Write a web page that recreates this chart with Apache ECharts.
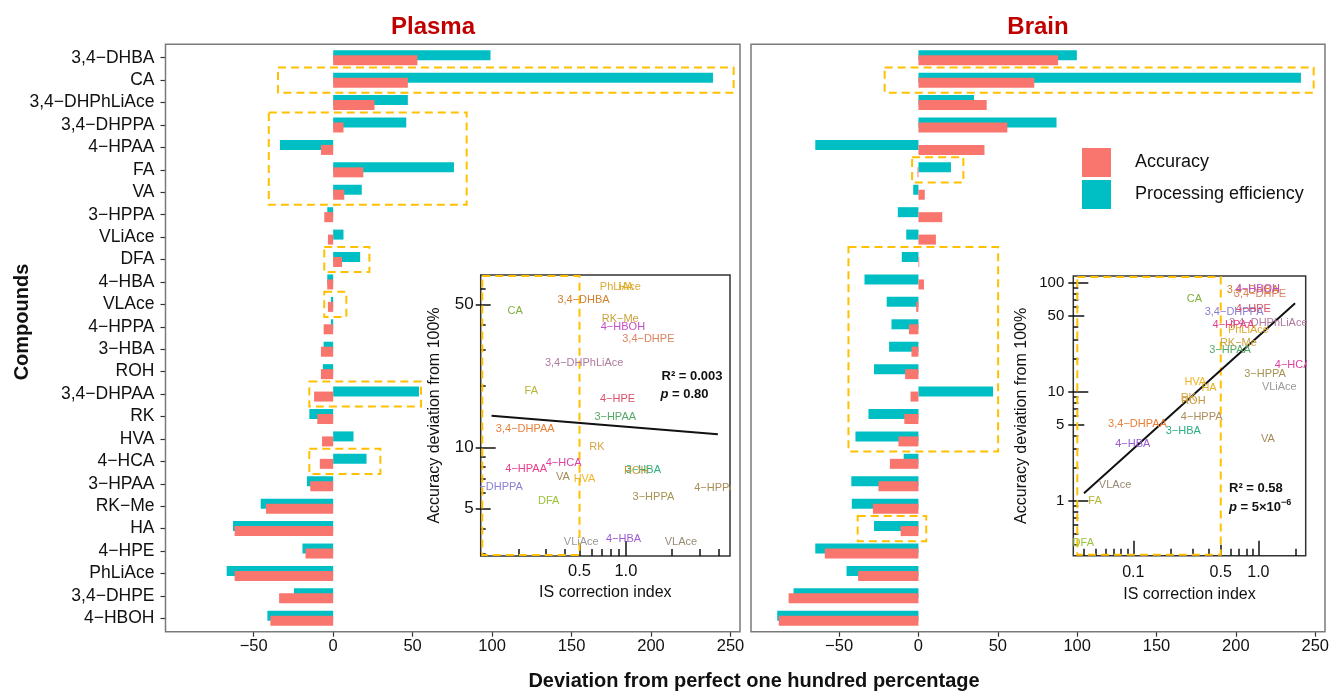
<!DOCTYPE html>
<html><head><meta charset="utf-8">
<script src="https://cdn.jsdelivr.net/npm/echarts@6/dist/echarts.min.js"></script>
<style>html,body{margin:0;padding:0;background:#fff}#c{width:1332px;height:691px}</style>
</head><body><div id="c"></div>
<script>
// ---------------- data ----------------
const categories = ['3,4-DHBA','CA','3,4-DHPhLiAce','3,4-DHPPA','4-HPAA','FA','VA','3-HPPA','VLiAce','DFA','4-HBA','VLAce','4-HPPA','3-HBA','ROH','3,4-DHPAA','RK','HVA','4-HCA','3-HPAA','RK-Me','HA','4-HPE','PhLiAce','3,4-DHPE','4-HBOH'];
const plasmaAccuracy   = [53,47,26,6.5,-7.7,19,7,-5.6,-3.3,5.6,-3.7,-3.3,-6,-7.7,-7.7,-12,-10,-7,-8.4,-14.4,-42.3,-62,-17.4,-62,-34,-39.5];
const plasmaEfficiency = [99,239,47,46,-33.5,76,18,-3.7,6.5,17,-3.7,-1.4,-1.4,-6,-6.5,54,-15,12.8,21,-16.5,-45.6,-63,-19.3,-67,-24.7,-41.4];
const brainAccuracy    = [88,73,43,56,41.6,-0.6,4,15,11,0.5,3.5,-1.4,-6,-4.4,-8.4,-5,-8.9,-12.6,-18,-25.2,-28.7,-11.2,-59,-38,-81.8,-88];
const brainEfficiency  = [99.8,241,35,87,-65,20.5,-3.3,-13,-7.7,-10.5,-34,-20,-17,-18.5,-28,47,-31.5,-39.7,-9.3,-42.3,-42,-28,-65,-45.3,-78.7,-89];
const mainTicks = [-50,0,50,100,150,200,250];

// inset scatter: IS correction index vs accuracy deviation (same category order)
const plasmaISIndex = [0.531,0.191,0.536,0.138,0.225,0.243,0.390,1.51,0.513,0.315,0.966,2.28,3.80,1.30,1.17,0.222,0.648,0.539,0.394,0.853,0.919,1.0,0.883,0.92,1.40,0.957];
const plasmaAccDev  = [52.7,46.6,25.8,6.41,7.80,18.9,7.13,5.73,3.42,5.47,3.55,3.42,6.29,7.74,7.68,12.3,10.0,6.97,8.35,14.1,42.4,60.9,17.2,60.9,33.8,39.0];
const brainISIndex  = [0.902,0.308,1.20,0.639,0.631,0.0494,1.19,1.13,1.47,0.0398,0.0989,0.0714,0.352,0.251,0.302,0.108,0.275,0.313,1.88,0.594,0.692,0.403,0.912,0.832,1.03,0.99];
const brainAccDev   = [86.3,70.8,42.7,54.5,41.2,1.0,3.71,14.6,11.2,0.409,3.33,1.40,5.93,4.42,8.27,5.08,8.87,12.3,17.7,24.3,28.3,10.9,57.4,37.1,79.3,88];
const plasmaFitX = [0.134, 3.96], plasmaFitY = [14.3, 11.6];
const brainFitX  = [0.0403, 1.966], brainFitY = [1.18, 65.1];

// tick values of inset log axes
const plasmaXLabels = [0.5, 1], plasmaXLong = [1], plasmaXMid = [0.5], plasmaXMinor = [0.2,0.3,0.4,0.6,0.7,0.8,0.9,2,3,4];
const plasmaYLabels = [5,10,50], plasmaYLong = [10], plasmaYMid = [5,50], plasmaYMinor = [3,4,6,7,8,9,20,30,40,60];
const brainXLabels = [0.1,0.5,1], brainXLong = [0.1,1], brainXMid = [0.5], brainXMinor = [0.04,0.05,0.06,0.07,0.08,0.09,0.2,0.3,0.4,0.6,0.7,0.8,0.9,2];
const brainYLabels = [1,5,10,50,100], brainYLong = [1,10,100], brainYMid = [5,50], brainYMinor = [0.4,0.5,0.6,0.7,0.8,0.9,2,3,4,6,7,8,9,20,30,40,60,70,80,90];

// highlighted (dashed) regions: [from, to, first category, last category]
const plasmaBoxes = [[-34.7,252,'CA','CA'],[-40.5,84,'3,4-DHPPA','VA'],[-5.6,22.8,'DFA','DFA'],[-5.6,8.3,'VLAce','VLAce'],[-15,55.3,'3,4-DHPAA','3,4-DHPAA'],[-15,29.7,'4-HCA','4-HCA']];
const brainBoxes  = [[-21.3,249,'CA','CA'],[-4,28.3,'FA','FA'],[-44.1,50.2,'DFA','HVA'],[-38.3,4.9,'HA','HA']];
const plasmaInsetBox = [0.115, 0.5];
const brainInsetBox  = [0.035, 0.5];

// ---------------- style ----------------
const FONT = '"Liberation Sans", Arial, Helvetica, sans-serif';
const RED = '#F8766D', TEAL = '#00BFC4', BOX = '#FFC000', TXT = '#111';
const labelColors = {
  '3,4-DHBA':'#D27F2E','CA':'#7FAF3E','3,4-DHPhLiAce':'#B07A9E','3,4-DHPPA':'#8A80D2','4-HPAA':'#EC3C8C','FA':'#B6B535',
  'VA':'#A58A55','3-HPPA':'#A59352','VLiAce':'#999999','DFA':'#98C23C','4-HBA':'#9B5BCF','VLAce':'#9A8A76',
  '4-HPPA':'#A98C58','3-HBA':'#2BAE7E','ROH':'#C4983A','3,4-DHPAA':'#E8803A','RK':'#D8A443','HVA':'#F0B429',
  '4-HCA':'#DF3FA0','3-HPAA':'#55A868','RK-Me':'#C9A23A','HA':'#E2B22A','4-HPE':'#D9506A','PhLiAce':'#DDAA33',
  '3,4-DHPE':'#D98360','4-HBOH':'#C44FC4'
};
const disp = s => String(s).replace(/-/g, '\u2212');
const idx = name => categories.indexOf(name);
const XMIN = -105.5, XMAX = 256;

const grids = [
  {left:165.5, top:46.5, width:574.5, height:583},
  {left:751,   top:46.5, width:574,   height:583},
  {left:480.7, top:275,  width:249.3, height:281, show:true, borderColor:'#333', borderWidth:1.5, backgroundColor:'#fff'},
  {left:1073.3,top:276,  width:232.4, height:279.7, show:true, borderColor:'#333', borderWidth:1.5, backgroundColor:'#fff'}
];

function mainX(grid) {
  return {type:'value', gridIndex:grid, min:XMIN, max:XMAX, position:'bottom', offset:2.2,
    axisLine:{show:false, onZero:false}, splitLine:{show:false},
    axisTick:{show:true, customValues:mainTicks, length:5, lineStyle:{color:'#333', width:1.2}},
    axisLabel:{customValues:mainTicks, fontSize:16.5, color:TXT, fontFamily:FONT, margin:6,
      formatter: v => v < 0 ? '\u2212' + Math.abs(v) : String(v)}};
}
function mainY(grid, showLabels) {
  return {type:'category', gridIndex:grid, data:categories, inverse:true, position:'left',
    axisLine:{show:false, onZero:false}, splitLine:{show:false},
    axisTick:{show:showLabels, alignWithLabel:true, interval:0, length:5, lineStyle:{color:'#333', width:1.2}},
    axisLabel:{show:showLabels, interval:0, fontSize:17.5, color:TXT, fontFamily:FONT, margin:11, formatter: v => disp(v)}};
}
function logAxes(dim, grid, min, max, s) {
  const base = {type:'log', logBase:10, gridIndex:grid, min:min, max:max, position: dim === 'x' ? 'bottom' : 'left',
    axisLine:{show:false, onZero:false}, splitLine:{show:false}, minorTick:{show:false}, minorSplitLine:{show:false}};
  const ts = {color:'#111', width:1.5};
  const out = [Object.assign({}, base, {
    name:s.name, nameLocation:'middle', nameGap:s.nameGap,
    nameTextStyle:{fontSize:16, color:TXT, fontFamily:FONT},
    axisTick: s.outLen ? {show:true, customValues:s.labels, length:s.outLen, inside:false, lineStyle:ts} : {show:false},
    axisLabel:{show:true, customValues:s.labels, formatter:s.fmt, fontSize:s.labelSize, color:TXT, fontFamily:FONT, margin:s.margin}
  })];
  [[s.long, s.longLen], [s.mid, s.midLen], [s.minor, s.minorLen]].forEach(function (p) {
    out.push(Object.assign({}, base, {axisTick:{show:true, customValues:p[0], length:p[1], inside:true, lineStyle:ts}, axisLabel:{show:false}}));
  });
  return out;
}
const fmt1 = v => Number(v).toFixed(1);
const fmt0 = v => String(Math.round(v));

const xAxes = [mainX(0), mainX(1)]
  .concat(logAxes('x', 2, 0.114, 4.75, {labels:plasmaXLabels, outLen:0, long:plasmaXLong, longLen:15, mid:plasmaXMid, midLen:11, minor:plasmaXMinor, minorLen:7, fmt:fmt1, labelSize:16.5, margin:7, name:'IS correction index', nameGap:29}))
  .concat(logAxes('x', 3, 0.0331, 2.39, {labels:brainXLabels, outLen:0, long:brainXLong, longLen:15, mid:brainXMid, midLen:11, minor:brainXMinor, minorLen:7, fmt:fmt1, labelSize:16, margin:9, name:'IS correction index', nameGap:31}));
const yAxes = [mainY(0, true), mainY(1, false)]
  .concat(logAxes('y', 2, 2.93, 70, {labels:plasmaYLabels, outLen:5, long:plasmaYLong, longLen:15, mid:plasmaYMid, midLen:10, minor:plasmaYMinor, minorLen:5, fmt:fmt0, labelSize:17, margin:7, name:'Accuracy deviation from 100%', nameGap:38}))
  .concat(logAxes('y', 3, 0.315, 116, {labels:brainYLabels, outLen:5, long:brainYLong, longLen:15, mid:brainYMid, midLen:11, minor:brainYMinor, minorLen:5, fmt:fmt0, labelSize:15, margin:9, name:'Accuracy deviation from 100%', nameGap:44}));

function barPair(ai, acc, eff) {
  return [
    {type:'bar', name:'Processing efficiency', xAxisIndex:ai, yAxisIndex:ai, data:eff, barWidth:10, barGap:'-50%', itemStyle:{color:TEAL}, z:2},
    {type:'bar', name:'Accuracy', xAxisIndex:ai, yAxisIndex:ai, data:acc, barWidth:10, barGap:'-50%', itemStyle:{color:RED}, z:2}
  ];
}
function boxSeries(ai, boxes) {
  return {type:'custom', xAxisIndex:ai, yAxisIndex:ai, z:5, silent:true,
    data: boxes.map(b => [b[0], b[1], idx(b[2]), idx(b[3])]),
    encode:{x:[0,1], y:[2,3]},
    renderItem: function (params, api) {
      const a = api.coord([api.value(0), api.value(2)]);
      const b = api.coord([api.value(1), api.value(3)]);
      const band = api.size([0, 1])[1];
      const pad = 0.56 * band;
      return {type:'rect', shape:{x:a[0], y:Math.min(a[1], b[1]) - pad, width:b[0] - a[0], height:Math.abs(b[1] - a[1]) + 2 * pad},
        style:{fill:'none', stroke:BOX, lineWidth:2, lineDash:[8,5]}};
    }};
}
function insetBox(xi, yi, range) {
  return {type:'custom', xAxisIndex:xi, yAxisIndex:yi, z:4, silent:true,
    data:[[range[0], range[1], 10]], encode:{x:[0,1], y:2},
    renderItem: function (params, api) {
      const cs = params.coordSys;
      const x0 = api.coord([api.value(0), api.value(2)])[0];
      const x1 = api.coord([api.value(1), api.value(2)])[0];
      return {type:'rect', shape:{x:x0 + 1, y:cs.y + 1, width:x1 - x0 - 1, height:cs.height - 2},
        style:{fill:'none', stroke:BOX, lineWidth:2, lineDash:[8,5]}};
    }};
}
function labelSeries(xi, yi, xs, ys) {
  return {type:'custom', xAxisIndex:xi, yAxisIndex:yi, z:6, clip:true, silent:true,
    data: categories.map((c, i) => [xs[i], ys[i]]), encode:{x:0, y:1},
    renderItem: function (params, api) {
      const name = categories[params.dataIndex];
      const p = api.coord([api.value(0), api.value(1)]);
      return {type:'text', x:p[0], y:p[1], style:{text:disp(name), fill:labelColors[name], fontSize:11, fontFamily:FONT,
        textAlign:'center', textVerticalAlign:'middle', align:'center', verticalAlign:'middle'}};
    }};
}
function fitLine(xi, yi, xs, ys) {
  return {type:'line', xAxisIndex:xi, yAxisIndex:yi, data: xs.map((x, i) => [x, ys[i]]), symbol:'none', silent:true, z:5,
    lineStyle:{color:'#111', width:2}};
}

function txt(x, y, text, font, fill, align, extra) {
  return Object.assign({type:'text', x:x, y:y, z:20, silent:true,
    style:{text:text, font:font, fill:fill, textAlign:align || 'center', textVerticalAlign:'middle', align:align || 'center', verticalAlign:'middle'}}, extra || {});
}

const option = {
  animation:false,
  grid: grids,
  xAxis: xAxes,
  yAxis: yAxes,
  legend: {data:['Accuracy','Processing efficiency'], orient:'vertical', left:1082, top:148, padding:0, itemWidth:29, itemHeight:29, itemGap:3,
    icon:'rect', selectedMode:false, textStyle:{fontSize:18, color:TXT, fontFamily:FONT, padding:[0,0,0,19]}},
  series: [].concat(
    barPair(0, plasmaAccuracy, plasmaEfficiency),
    barPair(1, brainAccuracy, brainEfficiency),
    [boxSeries(0, plasmaBoxes), boxSeries(1, brainBoxes),
     insetBox(2, 2, plasmaInsetBox), fitLine(2, 2, plasmaFitX, plasmaFitY), labelSeries(2, 2, plasmaISIndex, plasmaAccDev),
     insetBox(6, 6, brainInsetBox), fitLine(6, 6, brainFitX, brainFitY), labelSeries(6, 6, brainISIndex, brainAccDev)]
  ),
  graphic: [
    {type:'rect', z:1, silent:true, shape:{x:165.5, y:44.3, width:574.5, height:587.4}, style:{fill:'none', stroke:'#7a7a7a', lineWidth:1.5}},
    {type:'rect', z:1, silent:true, shape:{x:751, y:44.3, width:574, height:587.4}, style:{fill:'none', stroke:'#7a7a7a', lineWidth:1.5}},
    txt(433, 27, 'Plasma', 'bold 24px ' + FONT, '#C00000'),
    txt(1038, 27, 'Brain', 'bold 24px ' + FONT, '#C00000'),
    txt(22, 322, 'Compounds', 'bold 20px ' + FONT, TXT, 'center', {rotation: Math.PI / 2}),
    txt(754, 681, 'Deviation from perfect one hundred percentage', 'bold 20px ' + FONT, TXT),
    txt(661.5, 376, 'R\u00B2 = 0.003', 'bold 13px ' + FONT, TXT, 'left'),
    {type:'text', x:660.5, y:394.3, z:20, silent:true, style:{text:'{i|p} = 0.80', font:'bold 13px ' + FONT, fill:TXT,
      textAlign:'left', textVerticalAlign:'middle', align:'left', verticalAlign:'middle',
      rich:{i:{fontStyle:'italic', fontWeight:'bold', fontSize:13, fontFamily:FONT, fill:TXT}}}},
    txt(1229, 488.3, 'R\u00B2 = 0.58', 'bold 13px ' + FONT, TXT, 'left'),
    {type:'text', x:1229, y:507.3, z:20, silent:true, style:{text:'{i|p} = 5\u00D710{s|\u22126}', font:'bold 13px ' + FONT, fill:TXT,
      textAlign:'left', textVerticalAlign:'middle', align:'left', verticalAlign:'middle',
      rich:{i:{fontStyle:'italic', fontWeight:'bold', fontSize:13, fontFamily:FONT, fill:TXT},
            s:{fontWeight:'bold', fontSize:9, fontFamily:FONT, fill:TXT, padding:[0,0,10,0]}}}}
  ]
};
const chart = echarts.init(document.getElementById('c'), null, {renderer:'canvas'});
chart.setOption(option);
</script>
</body></html>
